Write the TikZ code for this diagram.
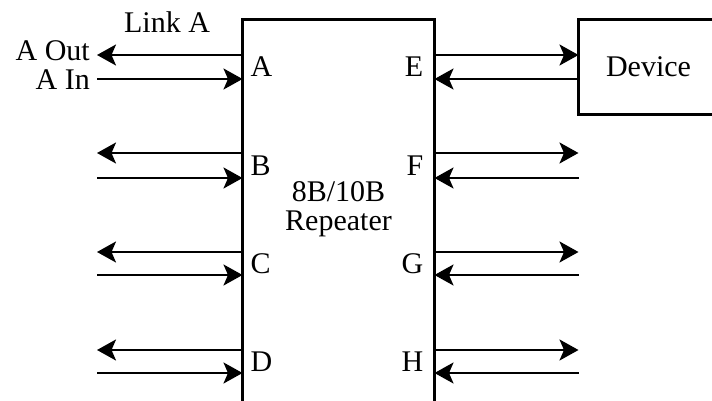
\documentclass[tikz,border=0pt]{standalone}
\usepackage{fontspec}
\setmainfont{Liberation Serif}
\usetikzlibrary{arrows.meta,positioning}

\tikzset{
    unitbox/.style={draw, line width=2.3pt, inner sep=0pt, outer sep=0pt},
    sig/.style={line width=2.3pt, -{Stealth[length=19pt,width=21pt,inset=4.5pt]}},
    portlbl/.style={inner sep=0pt},
}

\begin{document}
\begin{tikzpicture}[x=1pt,y=-1pt,font=\fontsize{30}{29}\selectfont]

\useasboundingbox (0,0) rectangle (712,401);
\clip (0,0) rectangle (712,401);

% Repeater and device boxes
\node[unitbox, anchor=north west, minimum width=192pt, minimum height=460pt] (rep) at (242.5,19.5) {};
\node[unitbox, anchor=north west, minimum width=140pt, minimum height=95pt] (dev) at (578.5,19.5) {Device};

\node[align=center, inner sep=0pt] (core) at (338.5,209) {8B/10B\\Repeater};

% Link A texts
\node[anchor=base] (linkA) at (167,33) {Link A};
\node[anchor=base east, inner sep=0pt] (aOut) at (90,61) {A Out};
\node[anchor=base east, inner sep=0pt] (aIn) at (90,90) {A In};

% Left ports
\foreach \n/\yo/\yi/\ym in {A/55/79/67, B/153/178/166, C/252/275/264, D/350/373/362}{
    \coordinate (\n-o) at (rep.west |- 0,\yo);
    \coordinate (\n-i) at (rep.west |- 0,\yi);
    \coordinate (\n-oe) at (97,\yo);
    \coordinate (\n-ie) at (97,\yi);
    \draw[sig] (\n-o) -- (\n-oe);
    \draw[sig] (\n-ie) -- (\n-i);
    \node[portlbl, anchor=west] (\n-lbl) at ([xshift=8pt]rep.west |- 0,\ym) {\n};
}

% Right ports
\foreach \n/\yo/\yi/\ym in {E/55/79/67, F/153/178/166, G/252/275/264, H/350/373/362}{
    \coordinate (\n-o) at (rep.east |- 0,\yo);
    \coordinate (\n-i) at (rep.east |- 0,\yi);
    \coordinate (\n-oe) at (dev.west |- 0,\yo);
    \coordinate (\n-ie) at (dev.west |- 0,\yi);
    \draw[sig] (\n-o) -- (\n-oe);
    \draw[sig] (\n-ie) -- (\n-i);
    \node[portlbl, anchor=east] (\n-lbl) at ([xshift=-11pt]rep.east |- 0,\ym) {\n};
}

\end{tikzpicture}
\end{document}
